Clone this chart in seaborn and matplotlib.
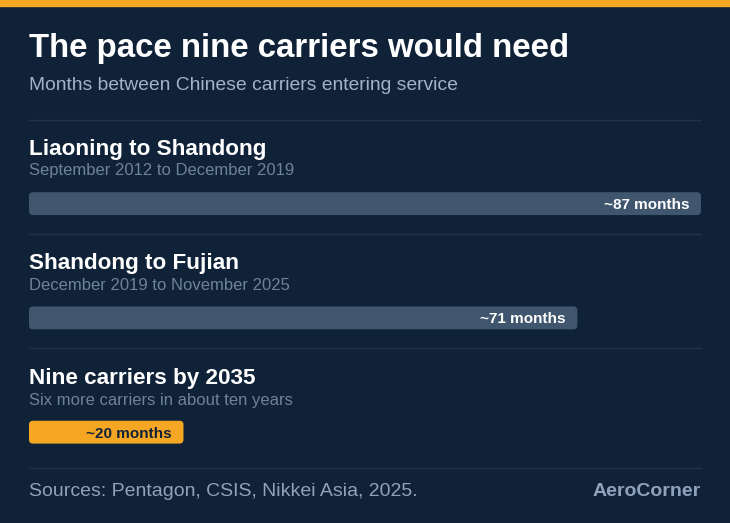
import pandas as pd
import matplotlib.pyplot as plt
import seaborn as sns
from matplotlib.patches import FancyBboxPatch

# data
routes = ["Liaoning to Shandong", "Shandong to Fujian", "Nine carriers by 2035"]
periods = ["September 2012 to December 2019",
           "December 2019 to November 2025",
           "Six more carriers in about ten years"]
months = [87, 71, 20]
labels = ["~87 months", "~71 months", "~20 months"]

BG = "#0f2238"
ORANGE = "#f5a623"
BAR = "#3f566e"
W, H = 730, 523

sns.set_theme(style="white")
plt.rcParams['font.family'] = ['Liberation Sans', 'DejaVu Sans']

fig = plt.figure(figsize=(W / 100, H / 100), dpi=100, facecolor=BG)


def fy(y):
    return 1 - y / H


def fx(x):
    return x / W


# top stripe
fig.patches.append(plt.Rectangle((0, fy(6)), 1, 6 / H, transform=fig.transFigure,
                                 color=ORANGE, zorder=0))

fig.text(fx(29), fy(48), "The pace nine carriers would need", color="white",
         fontsize=23.8, fontweight="bold", va="center", ha="left")
fig.text(fx(29), fy(85), "Months between Chinese carriers entering service",
         color="#a3b3c7", fontsize=13.9, va="center", ha="left")

# separators
for y in [120, 234, 348, 468]:
    fig.add_artist(plt.Line2D([fx(29), fx(701)], [fy(y), fy(y)],
                              transform=fig.transFigure, color="#1f3350", lw=1))

# section headings
for i, (r, p) in enumerate(zip(routes, periods)):
    y0 = 149.5 + i * 114.5
    fig.text(fx(29), fy(y0), r, color="white", fontsize=16.2, fontweight="bold",
             va="center", ha="left")
    fig.text(fx(29), fy(y0 + 21.5), p, color="#6e8299", fontsize=12,
             va="center", ha="left")

# bars
df = pd.DataFrame({"route": routes, "months": months})
top, bottom = 146.5, 489.3
ax = fig.add_axes([fx(29), fy(bottom), fx(701) - fx(29), (bottom - top) / H])
sns.barplot(data=df, x="months", y="route", hue="route",
            palette=[BAR, BAR, ORANGE], width=0.2, legend=False,
            saturation=1, linewidth=0, ax=ax)
ax.set_xlim(0, 87)
ax.set_ylim(2.5, -0.5)
ax.axis("off")
ax.patch.set_alpha(0)

# round the bar corners
px_x = 87 / 672
px_y = 3 / (bottom - top)
for p in list(ax.patches):
    x, y, w, h = p.get_x(), p.get_y(), p.get_width(), p.get_height()
    rp = FancyBboxPatch((x, y), w, h, boxstyle=f"round,pad=0,rounding_size={4 * px_x}",
                        mutation_aspect=px_y / px_x, fc=p.get_facecolor(), ec="none")
    p.remove()
    ax.add_patch(rp)

for i, (m, lab) in enumerate(zip(months, labels)):
    col = BG if i == 2 else "white"
    ax.annotate(lab, (m, i), xytext=(-8.5, -1), textcoords="offset points",
                ha="right", va="center", color=col, fontsize=11,
                fontweight="bold")

fig.text(fx(29), fy(492), "Sources: Pentagon, CSIS, Nikkei Asia, 2025.",
         color="#8fa2bb", fontsize=14, va="center", ha="left")
fig.text(fx(701), fy(492), "AeroCorner", color="#8fa2bb", fontsize=14,
         fontweight="bold", va="center", ha="right")

plt.savefig("out.png", dpi=100, facecolor=BG)
